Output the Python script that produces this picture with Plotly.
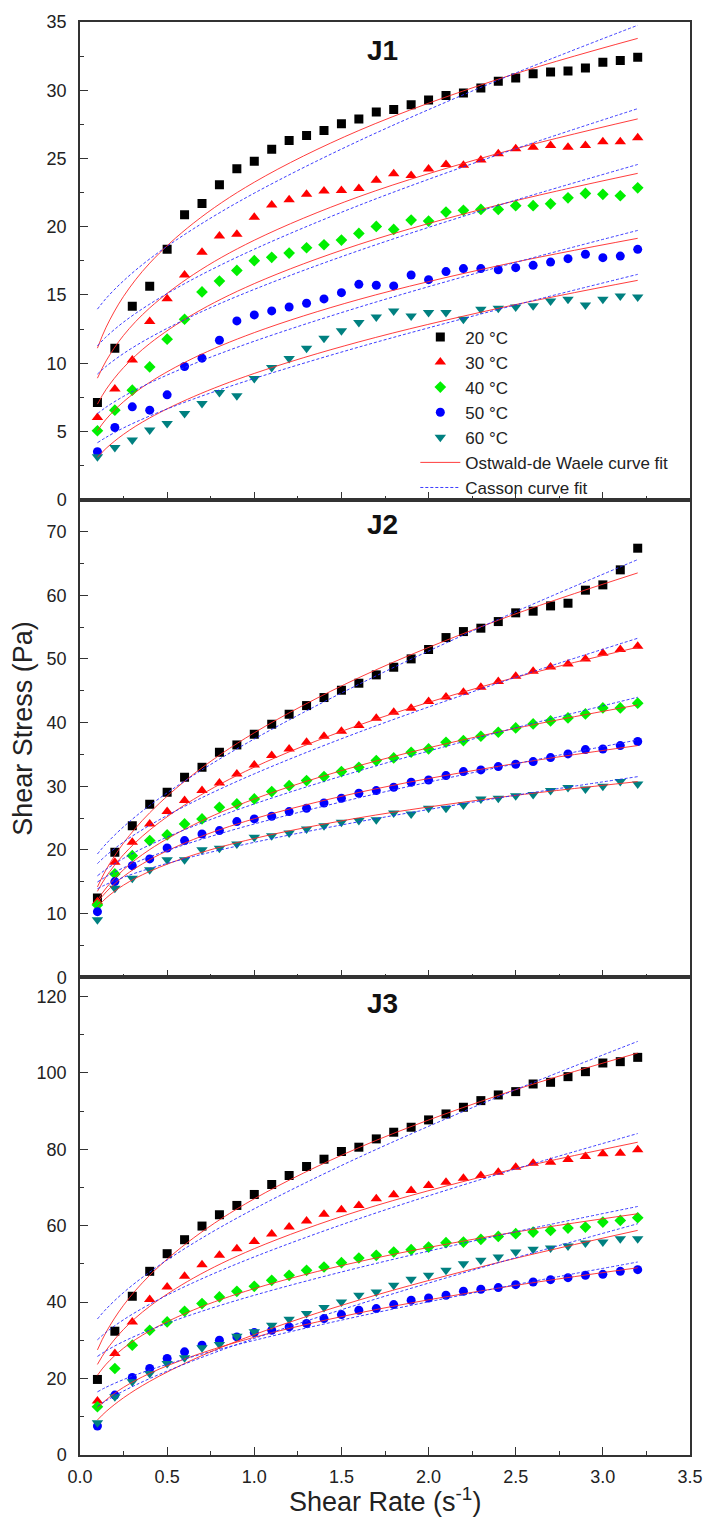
import plotly.graph_objects as go

# ---------------- data ----------------
SHEAR_RATE = [0.1, 0.2, 0.3, 0.4, 0.5, 0.6, 0.7, 0.8, 0.9, 1.0, 1.1, 1.2, 1.3, 1.4, 1.5, 1.6,
              1.7, 1.8, 1.9, 2.0, 2.1, 2.2, 2.3, 2.4, 2.5, 2.6, 2.7, 2.8, 2.9, 3.0, 3.1, 3.2]
TEMPS = ["20 °C", "30 °C", "40 °C", "50 °C", "60 °C"]
PANELS = ["J1", "J2", "J3"]

# J1 measured shear stress (Pa)
J1_20 = [7.12, 11.1, 14.17, 15.63, 18.34, 20.88, 21.7, 23.07, 24.24, 24.8, 25.68, 26.32, 26.68, 27.05, 27.54, 27.9,
         28.41, 28.59, 28.93, 29.29, 29.61, 29.8, 30.17, 30.66, 30.9, 31.2, 31.34, 31.41, 31.63, 32.05, 32.17, 32.41]
J1_30 = [6.02, 8.1, 10.24, 13.05, 14.73, 16.46, 18.12, 19.32, 19.44, 20.7, 21.59, 21.98, 22.37, 22.61, 22.66, 22.8,
         23.41, 23.88, 23.76, 24.22, 24.56, 24.51, 24.88, 25.34, 25.71, 25.83, 25.95, 25.83, 25.95, 26.22, 26.22, 26.51]
J1_40 = [5.05, 6.56, 8.02, 9.73, 11.76, 13.22, 15.22, 16.02, 16.8, 17.51, 17.76, 18.07, 18.46, 18.68, 19.02, 19.51,
         20.02, 19.8, 20.49, 20.41, 21.07, 21.2, 21.27, 21.27, 21.54, 21.54, 21.68, 22.12, 22.44, 22.37, 22.27, 22.85]
J1_50 = [3.51, 5.29, 6.8, 6.56, 7.68, 9.76, 10.37, 11.68, 13.1, 13.54, 13.83, 14.12, 14.39, 14.71, 15.17, 15.78,
         15.71, 15.66, 16.46, 16.12, 16.71, 16.93, 16.93, 16.85, 17.0, 17.17, 17.41, 17.66, 17.98, 17.73, 17.85, 18.34]
J1_60 = [3.15, 3.83, 4.37, 5.1, 5.59, 6.32, 7.05, 7.85, 7.61, 8.88, 9.68, 10.34, 11.1, 11.83, 12.37, 12.98,
         13.39, 13.83, 13.46, 13.71, 13.71, 13.22, 13.95, 14.02, 14.12, 14.2, 14.56, 14.68, 14.27, 14.68, 14.93, 14.85]

# J2 measured shear stress (Pa)
J2_20 = [12.46, 19.63, 23.82, 27.17, 29.06, 31.41, 32.98, 35.34, 36.49, 38.17, 39.74, 41.31, 42.67, 43.93, 45.08, 46.18,
         47.49, 48.69, 50.0, 51.47, 53.35, 54.29, 54.82, 55.86, 57.23, 57.49, 58.32, 58.74, 60.79, 61.62, 63.98, 67.38]
J2_30 = [11.88, 18.06, 21.2, 24.08, 26.02, 27.75, 29.32, 30.52, 31.94, 33.35, 34.82, 35.86, 36.91, 37.85, 38.64, 39.53,
         40.68, 41.62, 42.25, 43.3, 44.03, 44.76, 45.55, 46.44, 47.28, 48.06, 48.74, 49.21, 50.0, 50.89, 51.47, 51.99]
J2_40 = [11.36, 16.23, 19.11, 21.47, 22.36, 24.08, 24.87, 26.7, 27.23, 28.01, 29.16, 30.1, 30.89, 31.52, 32.3, 32.98,
         34.03, 34.45, 35.34, 35.86, 36.91, 37.17, 37.85, 38.48, 39.16, 39.79, 40.26, 40.73, 41.36, 42.3, 42.3, 43.04]
J2_50 = [10.31, 15.03, 17.54, 18.59, 20.31, 21.47, 22.51, 23.04, 24.45, 24.87, 25.29, 26.02, 26.54, 27.38, 28.12, 28.9,
         29.32, 29.84, 30.63, 30.99, 31.68, 32.3, 32.57, 33.09, 33.46, 33.87, 34.5, 35.08, 35.76, 35.86, 36.39, 37.02]
J2_60 = [9.06, 13.98, 15.55, 16.91, 18.48, 18.48, 20.05, 20.26, 20.94, 21.99, 22.25, 22.67, 23.3, 23.82, 24.35, 24.61,
         24.76, 25.81, 25.65, 26.54, 26.54, 27.07, 28.01, 28.12, 28.53, 28.69, 29.32, 29.79, 29.58, 30.0, 30.73, 30.37]

# J3 measured shear stress (Pa)
J3_20 = [19.77, 32.39, 41.54, 48.07, 52.68, 56.34, 59.91, 62.87, 65.31, 68.18, 70.79, 73.14, 75.5, 77.41, 79.42, 80.55,
         82.72, 84.47, 85.77, 87.69, 89.25, 91.0, 92.74, 94.22, 95.09, 97.09, 97.53, 99.01, 100.31, 102.58, 102.93, 104.06]
J3_30 = [14.11, 26.56, 34.83, 40.67, 43.97, 46.76, 49.81, 52.25, 53.99, 55.9, 57.82, 59.65, 61.22, 62.97, 64.18, 65.31,
         67.05, 68.1, 69.23, 70.53, 71.4, 72.45, 73.15, 74.02, 75.32, 76.37, 76.63, 77.32, 78.11, 78.81, 78.98, 79.85]
J3_40 = [12.63, 22.64, 28.74, 32.65, 34.83, 37.62, 39.62, 41.36, 42.84, 44.15, 45.72, 47.02, 48.33, 49.2, 50.33, 51.55,
         52.25, 53.12, 53.73, 54.42, 55.56, 55.73, 56.43, 57.21, 57.91, 58.34, 58.78, 59.39, 59.65, 60.95, 61.39, 62.09]
J3_50 = [7.58, 15.67, 20.29, 22.64, 25.25, 26.99, 28.74, 30.04, 30.91, 32.04, 32.65, 33.52, 34.4, 35.7, 36.75, 37.88,
         38.31, 39.36, 40.49, 41.1, 41.8, 42.84, 43.37, 43.8, 44.58, 45.28, 45.89, 46.41, 47.02, 47.28, 48.07, 48.5]
J3_60 = [8.45, 15.24, 19.16, 21.33, 23.95, 25.43, 28.04, 28.91, 31.09, 32.22, 33.96, 35.53, 37.0, 38.58, 40.06, 41.8,
         42.67, 44.41, 45.98, 47.02, 48.33, 50.07, 50.94, 51.81, 53.12, 53.81, 54.16, 54.68, 55.47, 55.73, 56.6, 56.6]

# fit curves at these shear rates
FIT_RATE = [0.1, 0.15, 0.25, 0.4, 0.65, 1.0, 1.6, 2.4, 3.2]

J1_OW_20 = [11.10, 12.64, 14.90, 17.33, 20.25, 23.26, 27.05, 30.81, 33.80]
J1_OW_30 = [8.90, 10.17, 12.04, 14.05, 16.49, 19.01, 22.20, 25.37, 27.90]
J1_OW_40 = [7.00, 8.08, 9.68, 11.44, 13.59, 15.83, 18.70, 21.59, 23.91]
J1_OW_50 = [5.05, 5.90, 7.18, 8.60, 10.37, 12.24, 14.67, 17.14, 19.15]
J1_OW_60 = [3.10, 3.76, 4.79, 5.99, 7.54, 9.25, 11.56, 14.02, 16.07]
J1_CA_20 = [13.96, 14.75, 16.04, 17.64, 19.84, 22.46, 26.29, 30.74, 34.76]
J1_CA_30 = [11.27, 11.93, 13.01, 14.33, 16.17, 18.35, 21.56, 25.28, 28.65]
J1_CA_40 = [9.20, 9.77, 10.71, 11.87, 13.49, 15.41, 18.25, 21.56, 24.56]
J1_CA_50 = [6.30, 6.78, 7.57, 8.55, 9.94, 11.61, 14.10, 17.04, 19.73]
J1_CA_60 = [4.17, 4.57, 5.26, 6.13, 7.37, 8.88, 11.18, 13.94, 16.51]

J2_OW_20 = [14.19, 16.91, 21.09, 25.84, 31.87, 38.40, 47.05, 56.07, 63.50]
J2_OW_30 = [13.50, 15.80, 19.27, 23.13, 27.92, 33.00, 39.60, 46.36, 51.83]
J2_OW_40 = [12.10, 14.03, 16.90, 20.06, 23.93, 28.00, 33.23, 38.52, 42.77]
J2_OW_50 = [11.75, 13.41, 15.84, 18.47, 21.64, 24.90, 29.03, 33.13, 36.39]
J2_OW_60 = [11.05, 12.45, 14.48, 16.64, 19.20, 21.80, 25.04, 28.23, 30.73]
J2_CA_20 = [19.37, 20.97, 23.64, 26.99, 31.71, 37.43, 46.01, 56.21, 65.59]
J2_CA_30 = [17.86, 19.14, 21.25, 23.87, 27.54, 31.95, 38.49, 46.20, 53.24]
J2_CA_40 = [15.94, 16.97, 18.68, 20.79, 23.72, 27.23, 32.41, 38.47, 43.98]
J2_CA_50 = [14.96, 15.81, 17.20, 18.91, 21.27, 24.08, 28.19, 32.97, 37.28]
J2_CA_60 = [13.90, 14.59, 15.71, 17.09, 18.97, 21.20, 24.43, 28.16, 31.51]

J3_OW_20 = [27.50, 32.17, 39.20, 47.03, 56.75, 67.05, 80.43, 94.10, 105.19]
J3_OW_30 = [23.70, 27.39, 32.88, 38.90, 46.28, 53.99, 63.88, 73.85, 81.85]
J3_OW_40 = [20.87, 23.76, 27.97, 32.49, 37.94, 43.54, 50.59, 57.59, 63.13]
J3_OW_50 = [12.28, 14.44, 17.71, 21.36, 25.93, 30.80, 37.16, 43.68, 49.00]
J3_OW_60 = [9.16, 11.39, 14.98, 19.27, 25.00, 31.50, 40.53, 50.37, 58.78]
J3_CA_20 = [35.60, 38.20, 42.52, 47.88, 55.40, 64.43, 77.88, 93.74, 108.24]
J3_CA_30 = [30.15, 32.13, 35.40, 39.45, 45.10, 51.84, 61.82, 73.50, 84.13]
J3_CA_40 = [25.79, 27.27, 29.71, 32.71, 36.87, 41.80, 49.03, 57.44, 65.04]
J3_CA_50 = [16.52, 17.74, 19.75, 22.26, 25.77, 30.00, 36.29, 43.71, 50.50]
J3_CA_60 = [12.73, 14.22, 16.75, 20.00, 24.69, 30.50, 39.45, 50.32, 60.52]

Y_RANGES = [[0, 35], [0, 75], [0, 125]]
Y_DTICK = [5, 10, 20]

# ---------------- styling ----------------
FONT = "Liberation Sans, Arial, sans-serif"
AX = "#333333"
MARKER_COLORS = ["#000000", "#ff0000", "#00f000", "#0000ff", "#008080"]
MARKER_SYMBOLS = ["square", "triangle-up", "diamond", "circle", "triangle-down"]
MARKER_SIZES = [9, 10, 9, 9, 10]
OW_COLOR = "rgba(255,40,40,0.9)"
CA_COLOR = "rgba(40,40,255,0.9)"

panel_data = [
    ([J1_20, J1_30, J1_40, J1_50, J1_60],
     [J1_OW_20, J1_OW_30, J1_OW_40, J1_OW_50, J1_OW_60],
     [J1_CA_20, J1_CA_30, J1_CA_40, J1_CA_50, J1_CA_60]),
    ([J2_20, J2_30, J2_40, J2_50, J2_60],
     [J2_OW_20, J2_OW_30, J2_OW_40, J2_OW_50, J2_OW_60],
     [J2_CA_20, J2_CA_30, J2_CA_40, J2_CA_50, J2_CA_60]),
    ([J3_20, J3_30, J3_40, J3_50, J3_60],
     [J3_OW_20, J3_OW_30, J3_OW_40, J3_OW_50, J3_OW_60],
     [J3_CA_20, J3_CA_30, J3_CA_40, J3_CA_50, J3_CA_60]),
]
# panel index -> axis suffix (J1 top uses x3/y3, J3 bottom uses x/y)
AXIS_IDS = ["3", "2", ""]

fig = go.Figure()
for p, (meas, ow, ca) in enumerate(panel_data):
    xa = "x" + AXIS_IDS[p]
    ya = "y" + AXIS_IDS[p]
    for i, series in enumerate(meas):
        fig.add_trace(go.Scatter(
            x=SHEAR_RATE, y=series, mode="markers", xaxis=xa, yaxis=ya,
            name=TEMPS[i], legendgroup=TEMPS[i], showlegend=(p == 0), legendrank=10 + i,
            marker=dict(symbol=MARKER_SYMBOLS[i], size=MARKER_SIZES[i], color=MARKER_COLORS[i],
                        line=dict(width=0)),
        ))
for p, (meas, ow, ca) in enumerate(panel_data):
    xa = "x" + AXIS_IDS[p]
    ya = "y" + AXIS_IDS[p]
    for i in range(5):
        fig.add_trace(go.Scatter(
            x=FIT_RATE, y=ow[i], mode="lines", xaxis=xa, yaxis=ya,
            name="Ostwald-de Waele curve fit", legendgroup="ow",
            showlegend=(p == 0 and i == 0), legendrank=20,
            line=dict(color=OW_COLOR, width=1, shape="spline"),
        ))
        fig.add_trace(go.Scatter(
            x=FIT_RATE, y=ca[i], mode="lines", xaxis=xa, yaxis=ya,
            name="Casson curve fit", legendgroup="ca",
            showlegend=(p == 0 and i == 0), legendrank=21,
            line=dict(color=CA_COLOR, width=1, dash="3px,2px", shape="spline"),
        ))

tickfont = dict(family=FONT, size=18, color="#222222")

def xaxis_style(anchor, show_labels):
    return dict(
        anchor=anchor, domain=[0, 1], range=[0, 3.5], tick0=0, dtick=0.5, tickformat=".1f",
        ticks="inside", ticklen=8, tickwidth=1.3, tickcolor=AX,
        minor=dict(ticks="inside", ticklen=4, dtick=0.25, tickwidth=1.3, tickcolor=AX, showgrid=False),
        showline=True, linecolor=AX, linewidth=1.5, mirror=True,
        showgrid=False, zeroline=False, showticklabels=show_labels,
        tickfont=tickfont, ticklabelstandoff=5,
    )

def yaxis_style(anchor, domain, rng, dtick):
    return dict(
        anchor=anchor, domain=domain, range=rng, tick0=0, dtick=dtick,
        ticks="inside", ticklen=8, tickwidth=1.3, tickcolor=AX,
        minor=dict(ticks="inside", ticklen=4, dtick=dtick / 2, tickwidth=1.3, tickcolor=AX, showgrid=False),
        showline=True, linecolor=AX, linewidth=1.5, mirror=True,
        showgrid=False, zeroline=False, tickfont=tickfont, ticklabelstandoff=8,
    )

fig.update_layout(
    width=715, height=1532,
    margin=dict(l=80, r=17, t=21, b=77),
    paper_bgcolor="white", plot_bgcolor="white",
    font=dict(family=FONT, color="#222222"),
    xaxis=xaxis_style("y", True),
    xaxis2=dict(xaxis_style("y2", False), matches="x"),
    xaxis3=dict(xaxis_style("y3", False), matches="x"),
    yaxis=yaxis_style("x", [0, 1 / 3], Y_RANGES[2], Y_DTICK[2]),
    yaxis2=yaxis_style("x2", [1 / 3, 2 / 3], Y_RANGES[1], Y_DTICK[1]),
    yaxis3=yaxis_style("x3", [2 / 3, 1], Y_RANGES[0], Y_DTICK[0]),
    legend=dict(x=0.5497, y=0.7925, xanchor="left", yanchor="top",
                font=dict(family=FONT, size=17, color="#222222"),
                bgcolor="rgba(0,0,0,0)", borderwidth=0, tracegroupgap=0,
                itemwidth=40, traceorder="normal"),
    showlegend=True,
)

annotations = []
panel_label_y = [0.980, 0.649, 0.315]
for p, lab in enumerate(PANELS):
    annotations.append(dict(text="<b>" + lab + "</b>", x=0.4676, y=panel_label_y[p], xref="paper", yref="paper",
                            xanchor="left", yanchor="middle", showarrow=False,
                            font=dict(family=FONT, size=28, color="#111111")))
annotations.append(dict(text="Shear Stress (Pa)", x=-0.093, y=0.507, xref="paper", yref="paper",
                        xanchor="center", yanchor="middle", textangle=-90, showarrow=False,
                        font=dict(family=FONT, size=27, color="#222222")))
annotations.append(dict(text="Shear Rate (s<sup>-1</sup>)", x=0.5, y=-0.0314, xref="paper", yref="paper",
                        xanchor="center", yanchor="middle", showarrow=False,
                        font=dict(family=FONT, size=27, color="#222222")))
fig.update_layout(annotations=annotations)

fig.write_html("out.html")
